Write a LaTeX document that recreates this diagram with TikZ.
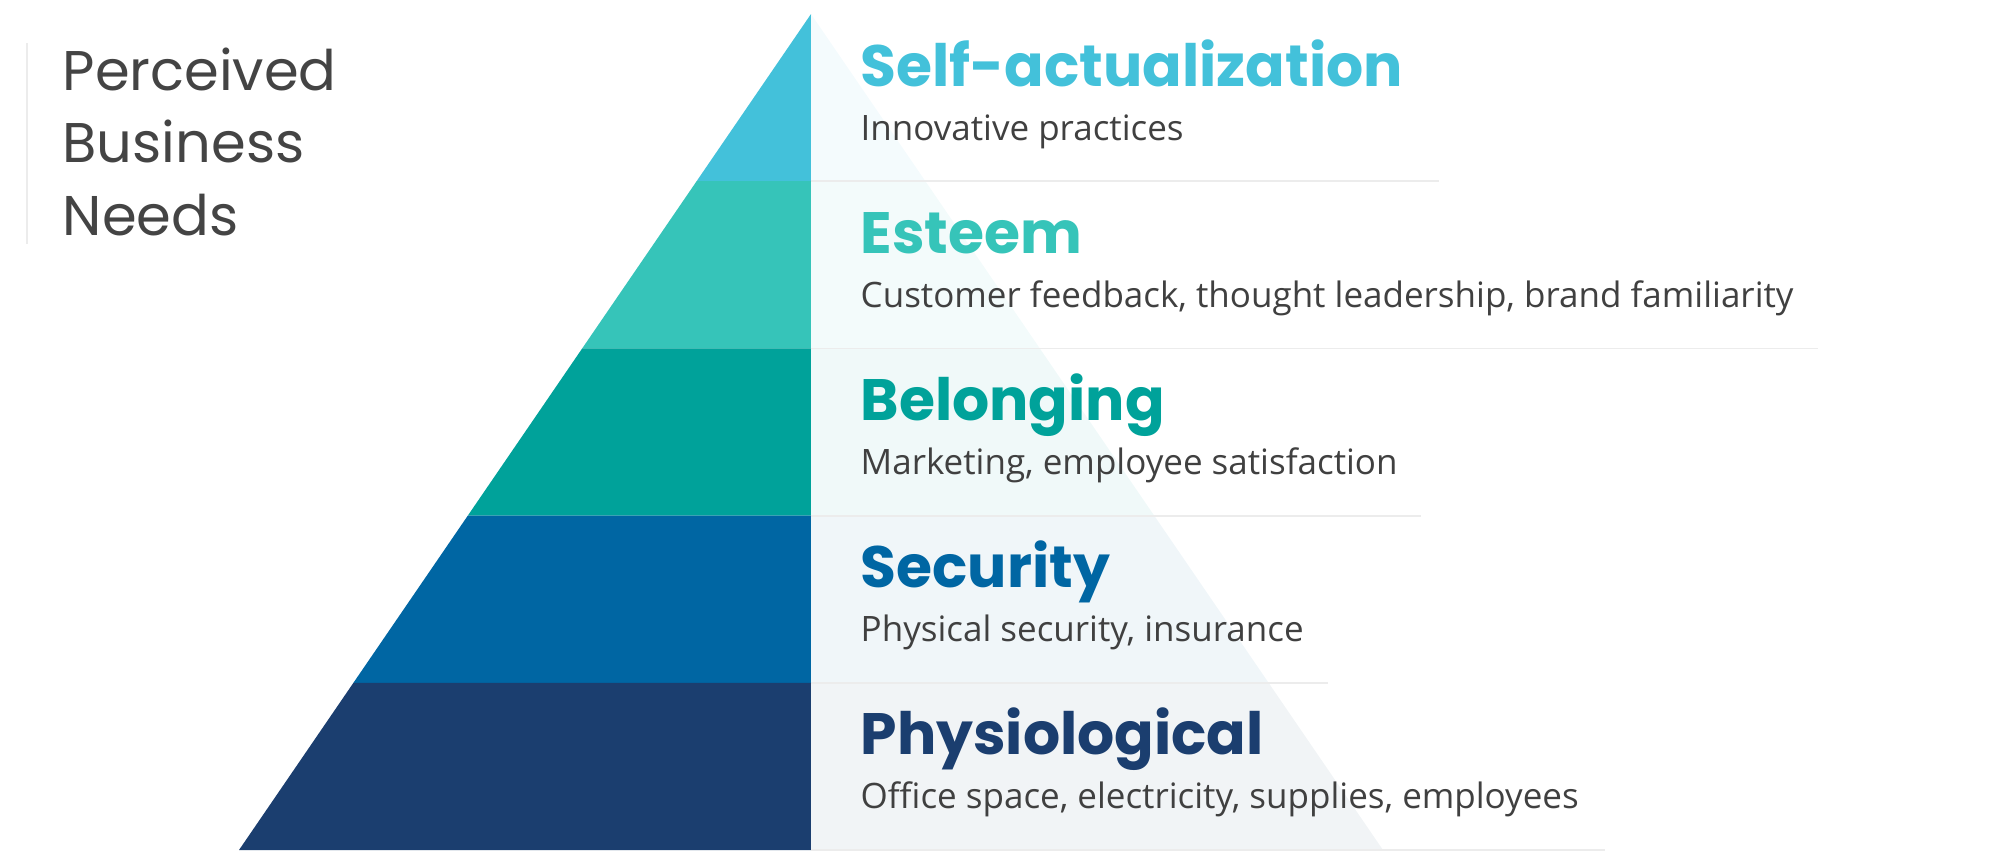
\documentclass[tikz,border=0pt]{standalone}
\usepackage{fontspec}
\setmainfont{Open Sans}
\newfontfamily\headfont{Poppins}

\definecolor{selfcol}{HTML}{43C1DA}
\definecolor{esteemcol}{HTML}{36C4B9}
\definecolor{belongcol}{HTML}{00A29A}
\definecolor{securecol}{HTML}{0066A3}
\definecolor{physcol}{HTML}{1B3E6F}
\definecolor{desccol}{HTML}{404040}
\definecolor{sidecol}{HTML}{444444}
\definecolor{sepcol}{HTML}{ECECEC}

\tikzset{
	lvltitle/.style={anchor=base west,inner sep=0,font=\headfont\bfseries\fontsize{16.6}{20}\selectfont},
	lvltext/.style={anchor=base west,inner sep=0,text=desccol,font=\fontsize{9.95}{12}\selectfont},
	sepline/.style={line width=.5pt,draw=sepcol},
}

\begin{document}
\begin{tikzpicture}
	[x=0.01cm,y=-0.01cm]

\useasboundingbox (0,0) rectangle (2000,853);

	% pyramid layers, dark half and pale half
	\foreach \col [count=\i from 0] in {selfcol,esteemcol,belongcol,securecol,physcol}
	{
	 \pgfmathsetmacro\ytop{14+167.2*\i}
	 \pgfmathsetmacro\ybot{\ytop+167.2}
	 \pgfmathsetmacro\wtop{0.6842*(\ytop-14)}
	 \pgfmathsetmacro\wbot{0.6842*(\ybot-14)}
	 \fill[\col] (811-\wtop,\ytop)--(811,\ytop)--(811,\ybot)--(811-\wbot,\ybot)--cycle;
	 \fill[\col!6] (811,\ytop)--(811+\wtop,\ytop)--(811+\wbot,\ybot)--(811,\ybot)--cycle;
	}

	\foreach \yy/\xe in {181.2/1439,348.4/1818,515.6/1421,682.8/1328,850/1605}
	{
	 \draw[sepline] (811,\yy)--(\xe,\yy);
	}

	% side caption
	\draw[line width=.6pt,draw=sepcol] (27,43)--(27,244);
	\node[anchor=base west,inner sep=0,align=left,text=sidecol,font=\headfont\fontsize{15.9}{20.5}\selectfont] (needs) at (62,235) {Perceived\\Business\\Needs};

	\node[lvltitle,text=selfcol] (selfT) at (860,86) {Self-actualization};
	\node[lvltext] (selfD) at (860,140) {Innovative practices};

	\node[lvltitle,text=esteemcol] (esteemT) at (860,253) {Esteem};
	\node[lvltext] (esteemD) at (860,307) {Customer feedback, thought leadership, brand familiarity};

	\node[lvltitle,text=belongcol] (belongT) at (860,420) {Belonging};
	\node[lvltext] (belongD) at (860,474) {Marketing, employee satisfaction};

	\node[lvltitle,text=securecol] (secureT) at (860,587) {Security};
	\node[lvltext] (secureD) at (860,641) {Physical security, insurance};

	\node[lvltitle,text=physcol] (physT) at (860,754) {Physiological};
	\node[lvltext] (physD) at (860,808) {Office space, electricity, supplies, employees};

\end{tikzpicture}
\end{document}
